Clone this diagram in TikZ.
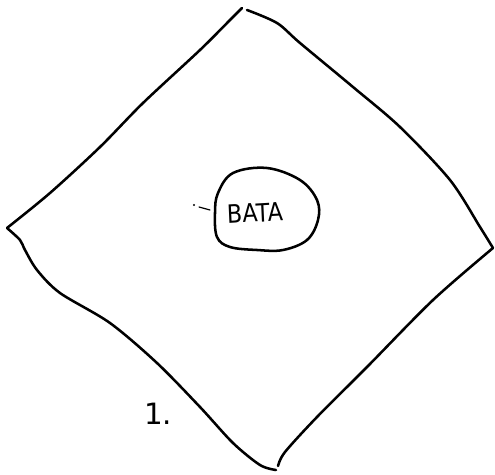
\documentclass[tikz,border=0pt]{standalone}
\usepackage{fontspec}
\setmainfont{DejaVu Sans}
\tikzset{
  ink/.style={line width=1.9pt, line cap=round, line join=round, black},
  lbl/.style={inner sep=0pt, font=\fontsize{19}{19}\selectfont}
}
\begin{document}
\begin{tikzpicture}[x=0.75pt,y=-0.75pt]
\useasboundingbox (0,0) rectangle (495,474);
% corners
\coordinate (T1) at (242,8);
\coordinate (T2) at (247,10);
\coordinate (L) at (7,228);
\coordinate (R) at (493,248);
\coordinate (B) at (276,470);
% diamond edges
\draw[ink] plot[smooth, tension=0.5] coordinates {(L) (50,193) (100,147) (143,103) (200,50) (230,20) (T1)};
\draw[ink] plot[smooth, tension=0.5] coordinates {(T2) (277,23) (300,43) (353,87) (400,127) (450,180) (480,227) (R)};
\draw[ink] plot[smooth, tension=0.5] coordinates {(R) (433,300) (367,367) (317,417) (285,452) (278,466)};
\draw[ink] plot[smooth, tension=0.5] coordinates {(L) (20,240) (25,250) (37,270) (60,293) (110,323) (157,363) (200,407) (233,443) (260,465) (B)};
% blob
\node[lbl, xscale=0.88, rotate=3] (bata) at (255,213) {BATA};
\draw[ink] plot[smooth cycle, tension=0.6] coordinates {(233,173) (267,168) (300,180) (317,200) (318,220) (307,240) (283,250) (257,250) (230,247) (217,237) (215,213) (218,193)};
% small marks
\fill (194,205) circle (0.9pt);
\draw[line width=0.9pt, line cap=round] (199,207) -- (210,210);
% label
\node[lbl, font=\fontsize{22}{22}\selectfont] (one) at (158,414) {1.};
\end{tikzpicture}
\end{document}
